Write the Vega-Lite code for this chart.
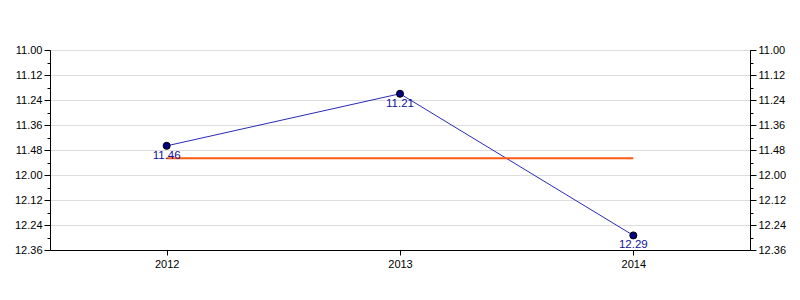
{
  "$schema": "https://vega.github.io/schema/vega-lite/v6.json",
  "autosize": "none",
  "width": 700,
  "height": 200,
  "padding": {"left": 50, "top": 50, "right": 50, "bottom": 50},
  "background": "white",
  "config": {
    "view": {"stroke": "black", "strokeWidth": 1},
    "axis": {
      "labelFont": "Liberation Sans",
      "labelFontSize": 11,
      "labelColor": "black",
      "domainColor": "black",
      "tickColor": "black",
      "title": null
    }
  },
  "datasets": {
    "times": [
      {"year": "2012", "seconds": 706, "label": "11.46"},
      {"year": "2013", "seconds": 681, "label": "11.21"},
      {"year": "2014", "seconds": 749, "label": "12.29"}
    ],
    "avg": [
      {"year": "2012", "seconds": 712},
      {"year": "2013", "seconds": 712},
      {"year": "2014", "seconds": 712}
    ]
  },
  "encoding": {
    "x": {
      "field": "year",
      "type": "ordinal",
      "scale": {"type": "point", "padding": 0.5},
      "axis": {"labelAngle": 0, "grid": false, "tickSize": 5, "labelPadding": 3, "title": null}
    }
  },
  "layer": [
    {
      "data": {"name": "times"},
      "mark": {"type": "line", "color": "#2a2ab8", "strokeWidth": 1},
      "encoding": {
        "y": {
          "field": "seconds",
          "type": "quantitative",
          "scale": {"domain": [660, 756], "reverse": true, "nice": false, "zero": false},
          "axis": {
            "orient": "left",
            "values": [660, 666, 672, 678, 684, 690, 696, 702, 708, 714, 720, 726, 732, 738, 744, 750, 756],
            "labelExpr": "datum.value % 12 == 0 ? floor(datum.value/60) + '.' + (datum.value % 60 < 10 ? '0' : '') + (datum.value % 60) : ''",
            "tickSize": {"condition": {"test": "datum.value % 12 == 0", "value": 6}, "value": 3},
            "grid": true,
            "gridColor": "#dddddd",
            "gridOpacity": {"condition": {"test": "datum.value % 12 == 0", "value": 1}, "value": 0},
            "labelPadding": 2,
            "title": null
          }
        }
      }
    },
    {
      "data": {"name": "avg"},
      "mark": {"type": "line", "color": "#ff5a10", "strokeWidth": 2},
      "encoding": {
        "y": {
          "field": "seconds",
          "type": "quantitative",
          "axis": {
            "orient": "right",
            "values": [660, 666, 672, 678, 684, 690, 696, 702, 708, 714, 720, 726, 732, 738, 744, 750, 756],
            "labelExpr": "datum.value % 12 == 0 ? floor(datum.value/60) + '.' + (datum.value % 60 < 10 ? '0' : '') + (datum.value % 60) : ''",
            "tickSize": {"condition": {"test": "datum.value % 12 == 0", "value": 6}, "value": 3},
            "grid": false,
            "labelPadding": 2,
            "title": null
          }
        }
      }
    },
    {
      "data": {"name": "times"},
      "mark": {"type": "point", "filled": true, "color": "#000080", "stroke": "black", "strokeWidth": 1, "size": 50, "opacity": 1},
      "encoding": {
        "y": {"field": "seconds", "type": "quantitative", "axis": null}
      }
    },
    {
      "data": {"name": "times"},
      "mark": {"type": "text", "color": "#10109a", "font": "Liberation Sans", "fontSize": 11.5, "baseline": "top", "dy": 4},
      "encoding": {
        "y": {"field": "seconds", "type": "quantitative", "axis": null},
        "text": {"field": "label"}
      }
    }
  ],
  "resolve": {"axis": {"y": "independent"}}
}
